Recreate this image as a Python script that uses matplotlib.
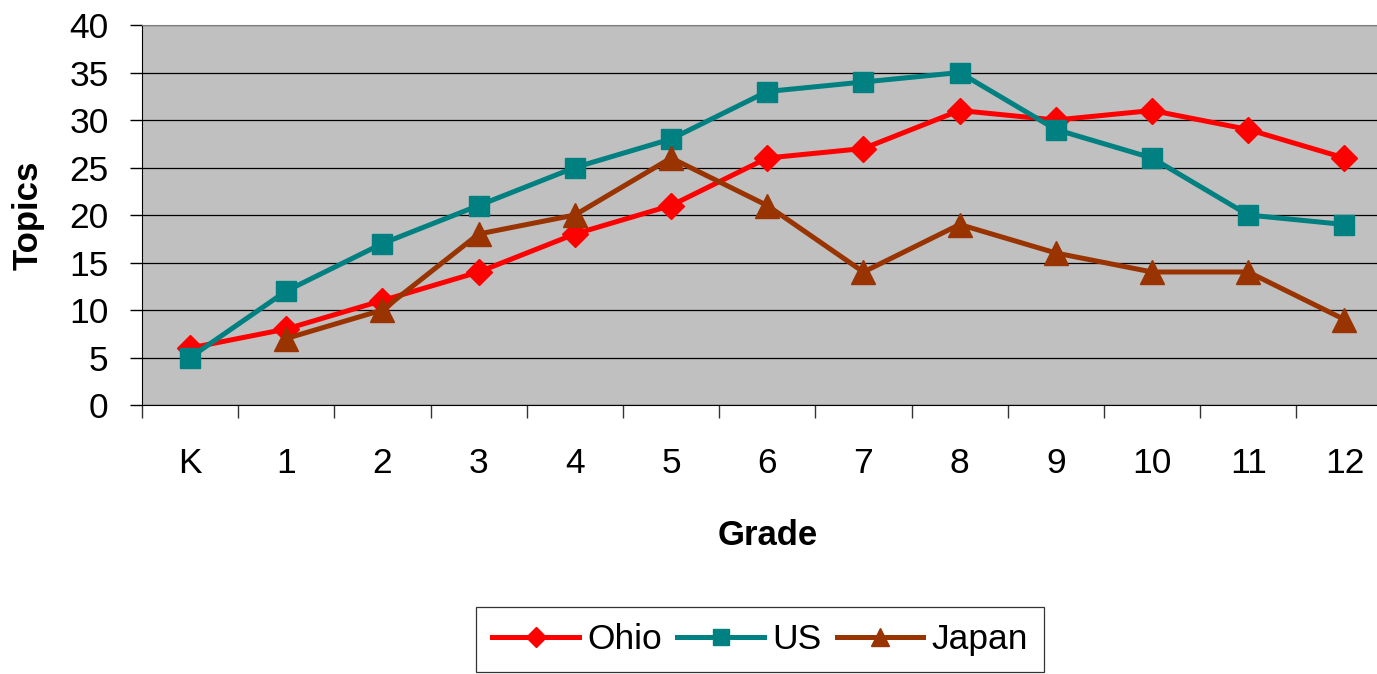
import numpy as np
import matplotlib.pyplot as plt

grades = ["K", "1", "2", "3", "4", "5", "6", "7", "8", "9", "10", "11", "12"]
ohio = [6, 8, 11, 14, 18, 21, 26, 27, 31, 30, 31, 29, 26]
us = [5, 12, 17, 21, 25, 28, 33, 34, 35, 29, 26, 20, 19]
japan = [np.nan, 7, 10, 18, 20, 26, 21, 14, 19, 16, 14, 14, 9]

plt.rcParams['font.family'] = ['Liberation Sans', 'DejaVu Sans']

fig = plt.figure(figsize=(13.77, 6.74), dpi=100)
ax = fig.add_axes([0.1031, 0.3991, 0.9082, 0.5638])
ax.set_facecolor("#C0C0C0")

x = np.arange(len(grades))
ax.plot(x, ohio, color="#FF0000", lw=3.6, marker="D", ms=13, label="Ohio", zorder=3)
ax.plot(x, us, color="#008080", lw=3.6, marker="s", ms=14, label="US", zorder=3)
ax.plot(x, japan, color="#993300", lw=3.6, marker="^", ms=17, label="Japan", zorder=3)

ax.set_xlim(-0.5, len(grades) - 0.5)
ax.set_ylim(0, 40)
ax.set_yticks(range(0, 41, 5))
ax.yaxis.grid(True, color="black", lw=0.9)
ax.set_axisbelow(True)

# category boundaries get the tick marks, labels sit between them
ax.set_xticks(np.arange(-0.5, len(grades), 1.0))
ax.set_xticklabels([])
ax.set_xticks(x, minor=True)
ax.set_xticklabels(grades, minor=True)
ax.tick_params(axis="x", which="major", length=9, width=1, color="#333333")
ax.tick_params(axis="x", which="minor", length=0, pad=30, labelsize=25.5)
ax.tick_params(axis="y", length=9, width=1, pad=15, labelsize=25.5)

for side in ("top", "right"):
    ax.spines[side].set_color("#808080")
ax.spines["left"].set_color("black")
ax.spines["bottom"].set_color("black")

ax.set_xlabel("Grade", fontsize=25, fontweight="bold", labelpad=28)
ax.set_ylabel("Topics", fontsize=25, fontweight="bold", labelpad=18)

leg = fig.legend(loc="upper center", bbox_to_anchor=(0.552, 0.0994), ncol=3,
                 fontsize=25.5, frameon=True, fancybox=False, edgecolor="black",
                 handlelength=2.45, handletextpad=0.23, columnspacing=0.43,
                 borderpad=0.45, borderaxespad=0, markerscale=0.8)
leg.get_frame().set_linewidth(0.9)

fig.savefig("out.png", dpi=100)
